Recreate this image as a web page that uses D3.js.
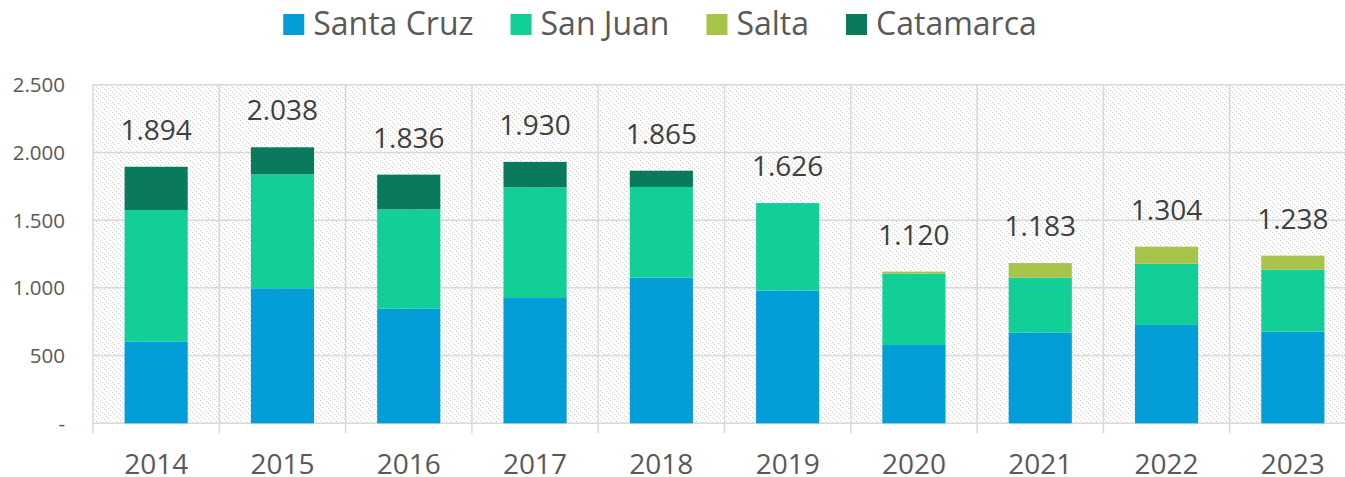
<!DOCTYPE html>
<html>
<head>
<meta charset="utf-8">
<script src="https://cdn.jsdelivr.net/npm/d3@7"></script>
<style>
  body { margin: 0; background: #fff; }
  text { font-family: "Open Sans", "Noto Sans", sans-serif; }
</style>
</head>
<body>
<div id="chart"></div>
<script>
// data
var years = ["2014", "2015", "2016", "2017", "2018", "2019", "2020", "2021", "2022", "2023"];
var santaCruz = [602, 997, 846, 925, 1075, 979, 578, 669, 726, 676];
var sanJuan   = [973, 841, 734, 817, 670, 647, 527, 406, 452, 458];
var salta     = [0, 0, 0, 0, 0, 0, 15, 108, 126, 104];
var catamarca = [319, 200, 256, 188, 120, 0, 0, 0, 0, 0];
var seriesNames = ["Santa Cruz", "San Juan", "Salta", "Catamarca"];
var yTicks = [0, 500, 1000, 1500, 2000, 2500];

var colors = ["#039dd8", "#12cf98", "#a7c34a", "#0a7a5c"];

var width = 1345, height = 477;
var margin = {top: 84.7, left: 93, bottom: 423.3, right: 1356};

var svg = d3.select("#chart").append("svg")
    .attr("width", width)
    .attr("height", height);

// hatch fill of the plot area (dotted downward diagonals)
var defs = svg.append("defs");
var pat = defs.append("pattern")
    .attr("id", "hatch")
    .attr("patternUnits", "userSpaceOnUse")
    .attr("width", 10).attr("height", 10);
pat.append("rect").attr("width", 10).attr("height", 10).attr("fill", "#fff");
for (var i = 0; i < 10; i++) {
  for (var j = 0; j < 10; j++) {
    if (((i - j) % 5 + 5) % 5 == 0 && i % 2 == 0) {
      pat.append("rect").attr("x", i).attr("y", j).attr("width", 1.2).attr("height", 1.2)
         .attr("fill", "#d2d2d2");
    }
  }
}

var x = d3.scaleBand().domain(years)
    .range([margin.left, margin.right])
    .paddingInner(0.5).paddingOuter(0.25);
var y = d3.scaleLinear().domain([0, 2500]).range([margin.bottom, margin.top]);

var fmt = d3.formatLocale({decimal: ",", thousands: ".", grouping: [3], currency: ["$", ""]}).format(",");

svg.append("rect")
    .attr("x", margin.left).attr("y", margin.top)
    .attr("width", margin.right - margin.left)
    .attr("height", margin.bottom - margin.top)
    .attr("fill", "url(#hatch)");

// horizontal gridlines
svg.append("g").selectAll("line").data(yTicks).join("line")
    .attr("x1", margin.left).attr("x2", margin.right)
    .attr("y1", function(d) { return y(d); })
    .attr("y2", function(d) { return y(d); })
    .attr("stroke", "#d9d9d9").attr("stroke-width", 1.5);

// vertical gridlines at category boundaries (with ticks below axis)
var step = x.step();
var bounds = d3.range(years.length + 1).map(function(i) { return margin.left + i * step; });
svg.append("g").selectAll("line").data(bounds).join("line")
    .attr("x1", function(d) { return d; }).attr("x2", function(d) { return d; })
    .attr("y1", margin.top).attr("y2", margin.bottom + 10)
    .attr("stroke", "#d9d9d9").attr("stroke-width", 1.5);

// y labels
svg.append("g").selectAll("text").data(yTicks).join("text")
    .attr("x", 65)
    .attr("y", function(d) { return y(d); })
    .attr("dy", "0.36em")
    .attr("text-anchor", "end")
    .attr("font-size", 20.5)
    .attr("fill", "#595959")
    .text(function(d) { return d == 0 ? "-" : fmt(d); });

// x labels
svg.append("g").selectAll("text").data(years).join("text")
    .attr("x", function(d) { return x(d) + x.bandwidth() / 2; })
    .attr("y", 474)
    .attr("text-anchor", "middle")
    .attr("font-size", 28)
    .attr("fill", "#595959")
    .text(function(d) { return d; });

// stacked bars
var table = years.map(function(yr, i) {
  return {year: yr, "Santa Cruz": santaCruz[i], "San Juan": sanJuan[i], "Salta": salta[i], "Catamarca": catamarca[i]};
});
var stacked = d3.stack().keys(seriesNames)(table);

svg.append("g").selectAll("g").data(stacked).join("g")
    .attr("fill", function(d, i) { return colors[i]; })
  .selectAll("rect").data(function(d) { return d; }).join("rect")
    .attr("x", function(d) { return x(d.data.year); })
    .attr("width", x.bandwidth())
    .attr("y", function(d) { return y(d[1]); })
    .attr("height", function(d) { return y(d[0]) - y(d[1]); });

// total labels
var totals = table.map(function(d) {
  return {year: d.year, total: d3.sum(seriesNames, function(k) { return d[k]; })};
});
svg.append("g").selectAll("text").data(totals).join("text")
    .attr("x", function(d) { return x(d.year) + x.bandwidth() / 2; })
    .attr("y", function(d) { return y(d.total) - 27; })
    .attr("text-anchor", "middle")
    .attr("font-size", 28)
    .attr("fill", "#404040")
    .text(function(d) { return fmt(d.total); });

// legend, centred
var legend = svg.append("g");
var items = legend.selectAll("g").data(seriesNames).join("g");
items.append("rect")
    .attr("width", 21).attr("height", 21)
    .attr("y", 14)
    .attr("fill", function(d, i) { return colors[i]; });
items.append("text")
    .attr("x", 30).attr("y", 35)
    .attr("font-size", 32)
    .attr("fill", "#595959")
    .text(function(d) { return d; });
var pos = 0;
items.each(function() {
  var w = this.querySelector("text").getComputedTextLength();
  d3.select(this).attr("transform", "translate(" + pos + ",0)");
  pos += 30 + w + 37;
});
var total = pos - 37;
legend.attr("transform", "translate(" + (660 - total / 2) + ",0)");
</script>
</body>
</html>
